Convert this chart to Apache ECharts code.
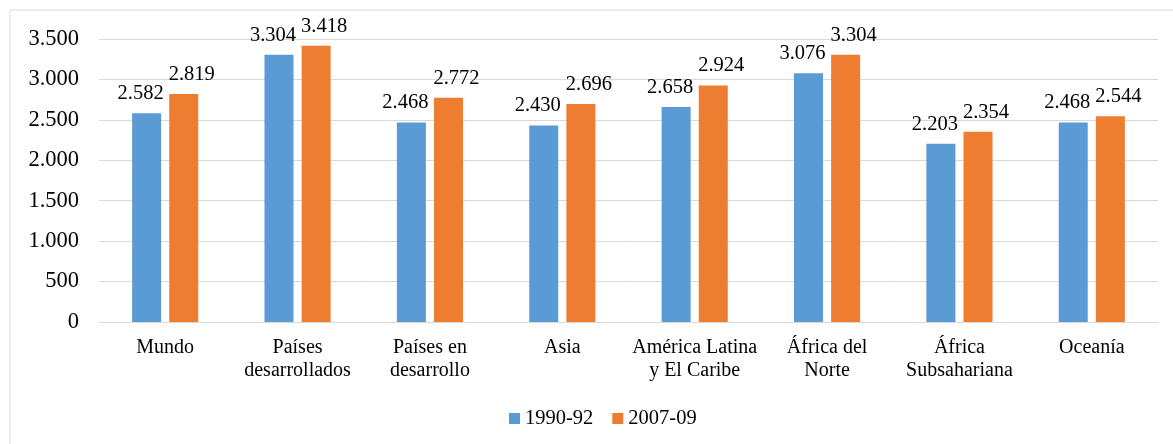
<!DOCTYPE html>
<html>
<head>
<meta charset="utf-8">
<script src="https://cdn.jsdelivr.net/npm/echarts@6/dist/echarts.min.js"></script>
<style>
  html, body { margin: 0; padding: 0; background: #fff; }
  #chart { width: 1173px; height: 444px; }
</style>
</head>
<body>
<div id="chart"></div>
<script>
var categories = ['Mundo', 'Países\ndesarrollados', 'Países en\ndesarrollo', 'Asia',
    'América Latina\ny El Caribe', 'África del\nNorte', 'África\nSubsahariana', 'Oceanía'];
var seriesNames = ['1990-92', '2007-09'];
var values1990 = [2582, 3304, 2468, 2430, 2658, 3076, 2203, 2468];
var values2007 = [2819, 3418, 2772, 2696, 2924, 3304, 2354, 2544];

var serif = '"Liberation Serif", "Times New Roman", serif';

// formato con punto de miles
function fmt(v){
    return String(v).replace(/\B(?=(\d{3})+(?!\d))/g, '.');
}

var chart = echarts.init(document.getElementById('chart'));

function barSeries(name, data, color, dx){
    return {
        name: name,
        type: 'bar',
        data: data,
        barWidth: 29,
        barGap: '28%',
        itemStyle: { color: color },
        label: {
            show: true,
            position: 'top',
            distance: 9,
            offset: [dx, 0],
            color: '#000',
            fontFamily: serif,
            fontSize: 20.5,
            formatter: function(p){ return fmt(p.value); }
        }
    };
}

var option = {
    animation: false,
    textStyle: { fontFamily: serif },
    graphic: [{
        type: 'rect',
        shape: { x: 10, y: 10, width: 1170, height: 450 },
        style: { fill: 'none', stroke: '#d9d9d9', lineWidth: 1 },
        silent: true
    }],
    grid: { left: 99, right: 15, top: 39, bottom: 122 },
    legend: {
        data: seriesNames,
        top: 403,
        left: 504,
        itemWidth: 11,
        itemHeight: 11,
        itemGap: 19,
        icon: 'rect',
        textStyle: { fontFamily: serif, fontSize: 20.5, color: '#000' }
    },
    xAxis: {
        type: 'category',
        data: categories,
        axisLine: { lineStyle: { color: '#d9d9d9', width: 1 } },
        axisTick: { show: false },
        axisLabel: {
            color: '#000',
            fontFamily: serif,
            fontSize: 20,
            lineHeight: 23,
            margin: 14,
            interval: 0
        }
    },
    yAxis: {
        type: 'value',
        min: 0,
        max: 3500,
        interval: 500,
        axisLine: { show: false },
        axisTick: { show: false },
        splitLine: { lineStyle: { color: '#d9d9d9', width: 1 } },
        axisLabel: {
            color: '#000',
            fontFamily: serif,
            fontSize: 22.5,
            margin: 20,
            formatter: function(v){ return fmt(v); }
        }
    },
    series: [
        barSeries(seriesNames[0], values1990, '#5b9bd5', -6),
        barSeries(seriesNames[1], values2007, '#ed7d31', 8)
    ]
};

chart.setOption(option);
</script>
</body>
</html>
